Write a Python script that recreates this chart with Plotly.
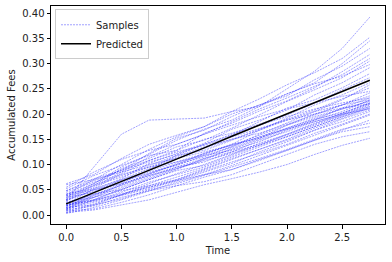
import plotly.graph_objects as go

times = [0.0, 0.25, 0.5, 0.75, 1.0, 1.25, 1.5, 1.75, 2.0, 2.25, 2.5, 2.75]

samples = [
    [0.040, 0.062, 0.095, 0.120, 0.148, 0.170, 0.188, 0.215, 0.250, 0.285, 0.330, 0.392],
    [0.030, 0.095, 0.160, 0.188, 0.190, 0.192, 0.205, 0.215, 0.240, 0.262, 0.300, 0.345],
    [0.062, 0.080, 0.112, 0.140, 0.158, 0.175, 0.205, 0.230, 0.258, 0.282, 0.310, 0.352],
    [0.048, 0.068, 0.088, 0.122, 0.152, 0.168, 0.195, 0.218, 0.236, 0.268, 0.295, 0.330],
    [0.022, 0.052, 0.082, 0.108, 0.128, 0.162, 0.182, 0.206, 0.226, 0.252, 0.284, 0.318],
    [0.038, 0.058, 0.092, 0.112, 0.135, 0.148, 0.172, 0.198, 0.225, 0.248, 0.272, 0.305],
    [0.028, 0.050, 0.072, 0.102, 0.122, 0.142, 0.170, 0.188, 0.208, 0.238, 0.262, 0.292],
    [0.012, 0.040, 0.062, 0.090, 0.118, 0.140, 0.158, 0.185, 0.212, 0.228, 0.252, 0.280],
    [0.052, 0.078, 0.098, 0.118, 0.128, 0.150, 0.162, 0.180, 0.198, 0.222, 0.248, 0.272],
    [0.018, 0.038, 0.060, 0.082, 0.100, 0.122, 0.140, 0.168, 0.192, 0.218, 0.238, 0.262],
    [0.032, 0.060, 0.078, 0.098, 0.118, 0.128, 0.148, 0.170, 0.190, 0.208, 0.230, 0.252],
    [0.010, 0.030, 0.052, 0.072, 0.092, 0.110, 0.132, 0.152, 0.178, 0.200, 0.218, 0.242],
    [0.042, 0.052, 0.070, 0.092, 0.112, 0.132, 0.150, 0.162, 0.180, 0.198, 0.218, 0.236],
    [0.020, 0.042, 0.050, 0.070, 0.090, 0.112, 0.130, 0.150, 0.170, 0.188, 0.212, 0.232],
    [0.030, 0.048, 0.068, 0.082, 0.102, 0.120, 0.140, 0.152, 0.172, 0.192, 0.210, 0.226],
    [0.008, 0.022, 0.040, 0.062, 0.082, 0.100, 0.120, 0.142, 0.160, 0.180, 0.202, 0.222],
    [0.018, 0.030, 0.050, 0.070, 0.088, 0.098, 0.118, 0.138, 0.160, 0.182, 0.198, 0.218],
    [0.005, 0.020, 0.040, 0.058, 0.070, 0.090, 0.110, 0.130, 0.150, 0.172, 0.192, 0.212],
    [0.035, 0.045, 0.065, 0.085, 0.098, 0.118, 0.128, 0.145, 0.168, 0.188, 0.205, 0.228],
    [0.025, 0.035, 0.055, 0.075, 0.095, 0.105, 0.125, 0.148, 0.165, 0.185, 0.200, 0.220],
    [0.015, 0.028, 0.045, 0.065, 0.080, 0.095, 0.115, 0.135, 0.155, 0.175, 0.195, 0.215],
    [0.060, 0.070, 0.085, 0.100, 0.112, 0.125, 0.138, 0.158, 0.178, 0.195, 0.210, 0.225],
    [0.045, 0.065, 0.080, 0.095, 0.105, 0.118, 0.135, 0.155, 0.172, 0.190, 0.202, 0.222],
    [0.012, 0.035, 0.048, 0.058, 0.075, 0.092, 0.112, 0.130, 0.148, 0.168, 0.190, 0.208],
    [0.003, 0.015, 0.030, 0.048, 0.065, 0.080, 0.098, 0.118, 0.138, 0.158, 0.178, 0.198],
    [0.022, 0.030, 0.042, 0.055, 0.070, 0.088, 0.105, 0.122, 0.140, 0.162, 0.180, 0.200],
    [0.008, 0.012, 0.025, 0.040, 0.058, 0.075, 0.090, 0.108, 0.128, 0.148, 0.168, 0.188],
    [0.015, 0.020, 0.032, 0.050, 0.062, 0.078, 0.095, 0.112, 0.130, 0.150, 0.170, 0.182],
    [0.005, 0.010, 0.020, 0.030, 0.045, 0.060, 0.072, 0.085, 0.100, 0.120, 0.138, 0.152],
    [0.010, 0.018, 0.035, 0.048, 0.058, 0.066, 0.080, 0.100, 0.120, 0.140, 0.155, 0.165],
    [0.020, 0.028, 0.040, 0.055, 0.068, 0.080, 0.090, 0.110, 0.128, 0.148, 0.165, 0.175],
    [0.040, 0.070, 0.100, 0.130, 0.155, 0.175, 0.200, 0.218, 0.240, 0.260, 0.275, 0.298],
    [0.055, 0.085, 0.110, 0.128, 0.140, 0.160, 0.185, 0.210, 0.232, 0.255, 0.278, 0.310],
    [0.028, 0.055, 0.085, 0.115, 0.140, 0.160, 0.178, 0.195, 0.210, 0.222, 0.235, 0.245],
    [0.035, 0.062, 0.090, 0.108, 0.125, 0.138, 0.155, 0.172, 0.188, 0.200, 0.212, 0.220],
    [0.015, 0.045, 0.070, 0.088, 0.105, 0.122, 0.138, 0.155, 0.170, 0.185, 0.200, 0.210],
    [0.048, 0.072, 0.088, 0.105, 0.120, 0.140, 0.160, 0.178, 0.195, 0.210, 0.222, 0.232],
    [0.025, 0.040, 0.058, 0.078, 0.095, 0.112, 0.125, 0.140, 0.158, 0.178, 0.198, 0.215],
    [0.038, 0.050, 0.062, 0.078, 0.092, 0.108, 0.122, 0.138, 0.155, 0.175, 0.195, 0.212],
    [0.012, 0.025, 0.038, 0.052, 0.068, 0.085, 0.102, 0.125, 0.145, 0.168, 0.185, 0.205],
    [0.030, 0.058, 0.075, 0.095, 0.115, 0.135, 0.150, 0.168, 0.188, 0.205, 0.218, 0.228],
    [0.018, 0.035, 0.060, 0.080, 0.100, 0.115, 0.135, 0.160, 0.182, 0.205, 0.228, 0.258],
]

predicted = [0.022, 0.044, 0.067, 0.089, 0.111, 0.133, 0.156, 0.178, 0.200, 0.222, 0.245, 0.267]

x_ticks = [0.0, 0.5, 1.0, 1.5, 2.0, 2.5]
x_tick_labels = ["0.0", "0.5", "1.0", "1.5", "2.0", "2.5"]
y_ticks = [0.00, 0.05, 0.10, 0.15, 0.20, 0.25, 0.30, 0.35, 0.40]
y_tick_labels = ["0.00", "0.05", "0.10", "0.15", "0.20", "0.25", "0.30", "0.35", "0.40"]

fig = go.Figure()
for i, s in enumerate(samples):
    fig.add_trace(go.Scatter(
        x=times, y=s, mode="lines", name="Samples",
        showlegend=(i == 0),
        line=dict(color="rgba(20,20,255,0.5)", width=0.8, dash="2px,1px"),
        hoverinfo="skip",
    ))
fig.add_trace(go.Scatter(
    x=times, y=predicted, mode="lines", name="Predicted",
    line=dict(color="black", width=1.5),
))

font = dict(family="DejaVu Sans", size=10, color="#222")
axis_common = dict(
    showgrid=False, zeroline=False, showline=True, linecolor="black",
    linewidth=1, mirror=True, ticks="outside", ticklen=3.5, tickwidth=0.8,
    tickcolor="black", tickfont=font, automargin=False,
)
fig.update_layout(
    width=392, height=262,
    margin=dict(l=51, r=7, t=6, b=38),
    paper_bgcolor="white", plot_bgcolor="white",
    font=font,
    xaxis=dict(range=[-0.1375, 2.8875], tickvals=x_ticks, ticktext=x_tick_labels,
               title=dict(text="Time", font=font, standoff=5), **axis_common),
    yaxis=dict(range=[-0.0178, 0.414], tickvals=y_ticks, ticktext=y_tick_labels,
               title=dict(text="Accumulated Fees", font=font, standoff=4), **axis_common),
    legend=dict(x=0.012, y=0.985, xanchor="left", yanchor="top",
                bgcolor="rgba(255,255,255,0.85)", bordercolor="#cccccc", borderwidth=1,
                font=font, tracegroupgap=0, itemwidth=30),
    showlegend=True,
)
fig.write_html("out.html", config={"displayModeBar": False},
               post_script="document.body.style.margin='0';document.body.style.overflow='hidden';")
